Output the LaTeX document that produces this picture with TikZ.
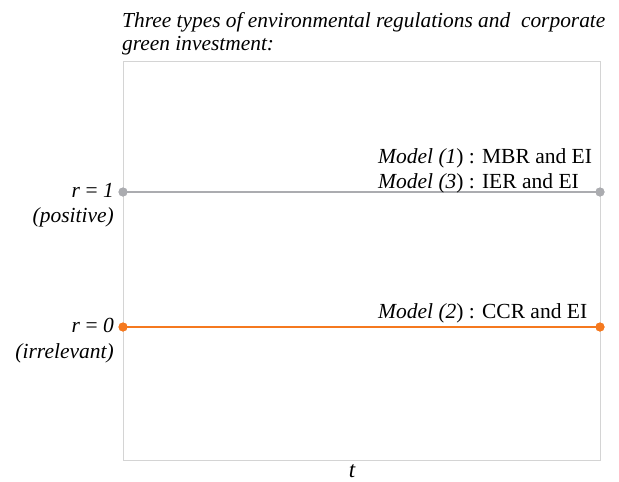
\documentclass[tikz,border=0pt]{standalone}
\usepackage{fontspec}
\setmainfont{Liberation Serif}
\definecolor{lgray}{HTML}{ABACB0}
\definecolor{lorange}{HTML}{F5791F}
\definecolor{frame}{HTML}{D4D4D4}
\begin{document}
\begin{tikzpicture}[x=1pt,y=-1pt,
  txt/.style={inner sep=0pt, font=\fontsize{21.5}{24}\selectfont},
  ttl/.style={inner sep=0pt, anchor=base west, font=\fontsize{21.4}{24}\selectfont\itshape},
  dotg/.style={circle, fill=lgray, inner sep=0pt, minimum size=9pt},
  doto/.style={circle, fill=lorange, inner sep=0pt, minimum size=9pt}]
\useasboundingbox (0,0) rectangle (619,482);
\draw[frame, line width=1pt] (123,61) rectangle (600,460);
\node[ttl] (title1) at (122,27) {Three types of environmental regulations and\ \ corporate};
\node[ttl] (title2) at (122,50) {green investment:};
% gray line
\node[dotg] (g1) at (123,192) {};
\node[dotg] (g2) at (600,192) {};
\draw[lgray, line width=2pt] (g1.center) -- (g2.center);
% orange line
\node[doto] (o1) at (123,327) {};
\node[doto] (o2) at (600,327) {};
\draw[lorange, line width=2pt] (o1.center) -- (o2.center);
\node[doto] at (123,327) {};
\node[doto] at (600,327) {};
\node[dotg] at (123,192) {};
\node[dotg] at (600,192) {};
% left labels
\node[txt, anchor=base east] (r1) at (114,197) {\textit{r} = \textit{1}};
\node[txt, anchor=base east] (p1) at (114,222) {\textit{(positive)}};
\node[txt, anchor=base east] (r0) at (114,332) {\textit{r} = \textit{0}};
\node[txt, anchor=base east] (p0) at (114,358) {\textit{(irrelevant)}};
% model labels
\node[txt, anchor=base west] (m1) at (378,163) {\textit{Model (1}) : MBR and EI};
\node[txt, anchor=base west] (m3) at (378,188) {\textit{Model (3}) : IER and EI};
\node[txt, anchor=base west] (m2) at (378,318) {\textit{Model (2}) : CCR and EI};
% axis label
\node[txt, anchor=base, font=\fontsize{23}{24}\selectfont\itshape] (t) at (352,477) {t};
\end{tikzpicture}
\end{document}
